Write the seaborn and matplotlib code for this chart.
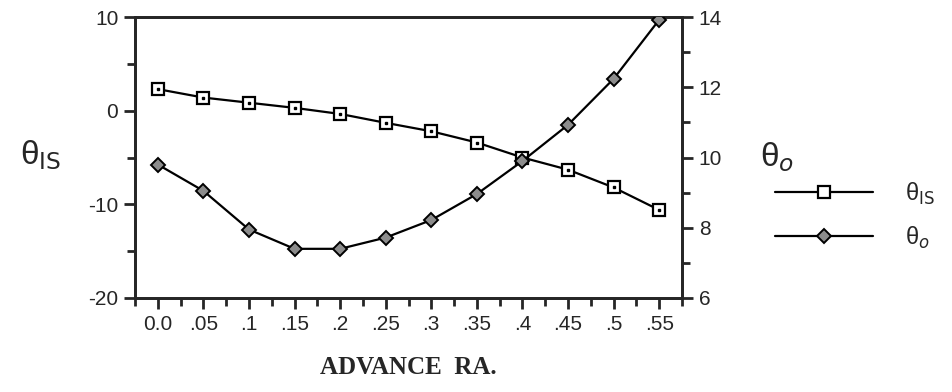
import numpy as np
import pandas as pd
import seaborn as sns
import matplotlib.pyplot as plt
from matplotlib.lines import Line2D
from matplotlib.ticker import MultipleLocator

# values
advance_ratio = [0.0, 0.05, 0.1, 0.15, 0.2, 0.25, 0.3, 0.35, 0.4, 0.45, 0.5, 0.55]
theta_is = [2.3, 1.4, 0.85, 0.3, -0.35, -1.3, -2.2, -3.4, -5.0, -6.3, -8.2, -10.6]
theta_o = [9.8, 9.05, 7.95, 7.4, 7.4, 7.72, 8.22, 8.96, 9.9, 10.93, 12.24, 13.92]
xtick_labels = ["0.0", ".05", ".1", ".15", ".2", ".25", ".3", ".35", ".4", ".45", ".5", ".55"]

df = pd.DataFrame({"ra": advance_ratio, "theta_is": theta_is, "theta_o": theta_o})

sns.set_style("ticks")
plt.rcParams["font.family"] = ["Liberation Sans", "DejaVu Sans"]
plt.rcParams["mathtext.fontset"] = "dejavusans"
plt.rcParams["axes.unicode_minus"] = False

fig = plt.figure(figsize=(9.53, 3.92), dpi=100)
ax = fig.add_axes([0.1417, 0.2398, 0.5739, 0.7168])
ax2 = ax.twinx()

lw = 1.6
sns.lineplot(data=df, x="ra", y="theta_is", ax=ax, color="black", lw=lw,
             marker="s", markersize=8, markerfacecolor="white",
             markeredgecolor="black", markeredgewidth=1.6, zorder=3)
ax.plot(df["ra"], df["theta_is"], ls="none", marker="s", ms=2, color="black", zorder=4)

sns.lineplot(data=df, x="ra", y="theta_o", ax=ax2, color="black", lw=lw,
             marker="D", markersize=7, markerfacecolor="#8c8c8c",
             markeredgecolor="black", markeredgewidth=1.4, zorder=3)

ax.set_xlim(-0.025, 0.575)
ax.set_ylim(-20, 10)
ax2.set_ylim(6, 14)

ax.set_xticks(advance_ratio)
ax.set_xticklabels(xtick_labels)
ax.set_xticks(np.arange(-0.025, 0.58, 0.05), minor=True)
ax.set_yticks([-20, -10, 0, 10])
ax.yaxis.set_minor_locator(MultipleLocator(5))
ax2.set_yticks([6, 8, 10, 12, 14])
ax2.yaxis.set_minor_locator(MultipleLocator(1))

for a in (ax, ax2):
    for s in a.spines.values():
        s.set_linewidth(2)
        s.set_visible(True)
    a.tick_params(which="major", length=8, width=2, labelsize=15, pad=4)
    a.tick_params(which="minor", length=6, width=2)
    a.set_xlabel("")
    a.set_ylabel("")

ax.set_xlabel("ADVANCE  RA.", family="Liberation Serif", fontweight="bold",
              fontsize=18, labelpad=16)

fig.text(0.021, 0.605, r"θ$_{\mathsf{IS}}$", fontsize=24, va="center", ha="left")
fig.text(0.797, 0.598, r"θ$_{o}$", fontsize=24, va="center", ha="left")

h1 = Line2D([], [], color="black", lw=lw, marker="s", ms=8, mfc="white",
            mec="black", mew=1.6)
h2 = Line2D([], [], color="black", lw=lw, marker="D", ms=7, mfc="#8c8c8c",
            mec="black", mew=1.4)
fig.legend([h1, h2], [r"θ$_{\mathsf{IS}}$", r"θ$_{o}$"],
           loc="center left", bbox_to_anchor=(0.813, 0.45), frameon=False,
           borderpad=0, borderaxespad=0,
           handlelength=4.15, handletextpad=1.35, labelspacing=0.75, fontsize=17)

fig.savefig("out.png", dpi=100)
